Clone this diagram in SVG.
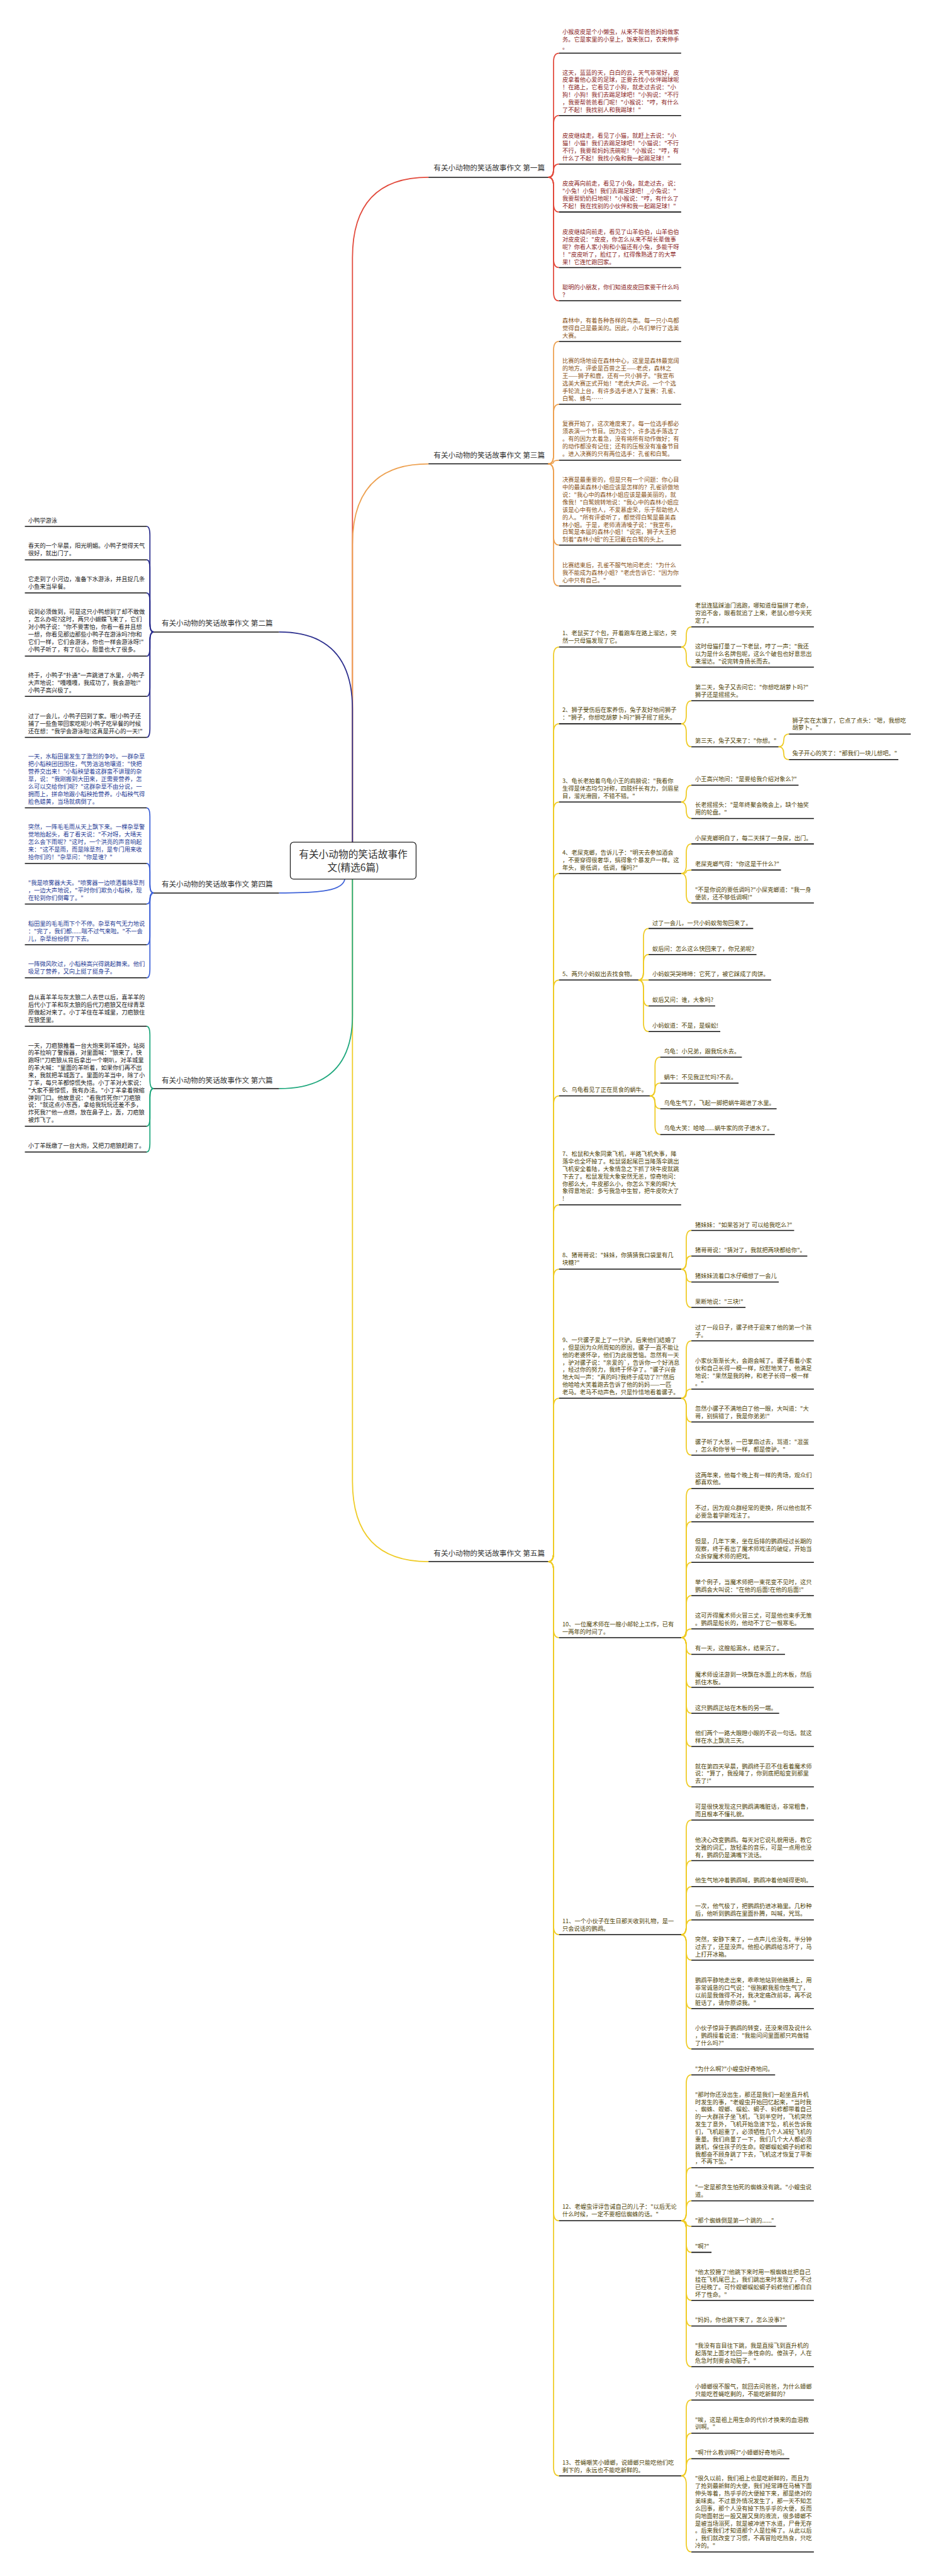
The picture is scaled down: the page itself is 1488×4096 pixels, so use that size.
<svg xmlns="http://www.w3.org/2000/svg" width="1488" height="4096" viewBox="0 0 1488 4096">
<style>
.t{font-family:"Noto Sans CJK SC","Noto Sans",sans-serif;font-size:16px}
.lb{font-family:"Noto Sans CJK SC","Noto Sans",sans-serif;font-size:20px;fill:#333}
.rt{font-family:"Noto Sans CJK SC","Noto Sans",sans-serif;font-size:27px;fill:#333}
.u{stroke:#111;stroke-width:2.6;fill:none}
.k{fill:none;stroke-width:3}
.r{stroke:#E2493B}.o{stroke:#EDA04F}.y{stroke:#EFCB24}.n{stroke:#2C2F8E}.b{stroke:#3E62D8}.g{stroke:#1EA77C}
.c1{fill:#8B1E1E}.c3{fill:#8A5418}.c5{fill:#4F4306}.c2{fill:#1a1a1a}.c4{fill:#1F3C96}.c6{fill:#1a1a1a}
</style>
<rect width="1488" height="4096" fill="#fff"/>
<g transform="scale(0.58125)">
<g id="connectors">
<path class="k r" d="M964 2304L964 705Q964 485 1172 485"/>
<path class="k o" d="M964 2304L964 1489Q964 1269 1172 1269"/>
<path class="k y" d="M964 2405L964 4052Q964 4272 1172 4272"/>
<path class="k n" d="M964 2304L964 1940Q964 1729 763 1729"/>
<path class="k b" d="M943 2405C938 2436 880 2443 763 2443"/>
<path class="k g" d="M964 2405L964 2778Q964 2978 763 2978"/>
<g class="k r">
<path d="M1499 485Q1514 485 1514 461L1514 169.5Q1514 145.5 1529 145.5"/>
<path d="M1499 485Q1514 485 1514 461L1514 340Q1514 316 1529 316"/>
<path d="M1499 485Q1514 485 1514 467Q1514 449 1529 449"/>
<path d="M1499 485Q1514 485 1514 509L1514 556Q1514 580 1529 580"/>
<path d="M1499 485Q1514 485 1514 509L1514 708Q1514 732 1529 732"/>
<path d="M1499 485Q1514 485 1514 509L1514 799Q1514 823 1529 823"/>
</g>
<g class="k o">
<path d="M1499 1269Q1514 1269 1514 1245L1514 958Q1514 934 1529 934"/>
<path d="M1499 1269Q1514 1269 1514 1245L1514 1130Q1514 1106 1529 1106"/>
<path d="M1499 1269Q1514 1269 1514 1264Q1514 1259 1529 1259"/>
<path d="M1499 1269Q1514 1269 1514 1293L1514 1467Q1514 1491 1529 1491"/>
<path d="M1499 1269Q1514 1269 1514 1293L1514 1579Q1514 1603 1529 1603"/>
</g>
<g class="k y">
<path d="M1499 4272Q1514 4272 1514 4248L1514 1794Q1514 1770 1529 1770"/>
<path d="M1499 4272Q1514 4272 1514 4248L1514 2004Q1514 1980 1529 1980"/>
<path d="M1499 4272Q1514 4272 1514 4248L1514 2218Q1514 2194 1529 2194"/>
<path d="M1499 4272Q1514 4272 1514 4248L1514 2413.5Q1514 2389.5 1529 2389.5"/>
<path d="M1499 4272Q1514 4272 1514 4248L1514 2705Q1514 2681 1529 2681"/>
<path d="M1499 4272Q1514 4272 1514 4248L1514 3022Q1514 2998 1529 2998"/>
<path d="M1499 4272Q1514 4272 1514 4248L1514 3320Q1514 3296 1529 3296"/>
<path d="M1499 4272Q1514 4272 1514 4248L1514 3496Q1514 3472 1529 3472"/>
<path d="M1499 4272Q1514 4272 1514 4248L1514 3849Q1514 3825 1529 3825"/>
<path d="M1499 4272Q1514 4272 1514 4296L1514 4456Q1514 4480 1529 4480"/>
<path d="M1499 4272Q1514 4272 1514 4296L1514 5268.6Q1514 5292.6 1529 5292.6"/>
<path d="M1499 4272Q1514 4272 1514 4296L1514 6051Q1514 6075 1529 6075"/>
<path d="M1499 4272Q1514 4272 1514 4296L1514 6749Q1514 6773 1529 6773"/>
<path d="M1863 1770Q1877 1770 1877 1746L1877 1739Q1877 1715 1891 1715"/>
<path d="M1863 1770Q1877 1770 1877 1794L1877 1801Q1877 1825 1891 1825"/>
<path d="M1863 1980Q1877 1980 1877 1956L1877 1941Q1877 1917 1891 1917"/>
<path d="M1863 1980Q1877 1980 1877 2004L1877 2019Q1877 2043 1891 2043"/>
<path d="M2129 2043Q2143.5 2043 2143.5 2025.5Q2143.5 2008 2158 2008"/>
<path d="M2129 2043Q2143.5 2043 2143.5 2060.5Q2143.5 2078 2158 2078"/>
<path d="M1863 2194Q1877 2194 1877 2171Q1877 2148 1891 2148"/>
<path d="M1863 2194Q1877 2194 1877 2216.5Q1877 2239 1891 2239"/>
<path d="M1863 2389.5Q1877 2389.5 1877 2365.5L1877 2332.6Q1877 2308.6 1891 2308.6"/>
<path d="M1863 2389.5Q1877 2389.5 1877 2384.75Q1877 2380 1891 2380"/>
<path d="M1863 2389.5Q1877 2389.5 1877 2413.5L1877 2446Q1877 2470 1891 2470"/>
<path d="M1746 2681Q1760 2681 1760 2657L1760 2564Q1760 2540 1774 2540"/>
<path d="M1746 2681Q1760 2681 1760 2657L1760 2635Q1760 2611 1774 2611"/>
<path d="M1746 2681L1774 2681"/>
<path d="M1746 2681Q1760 2681 1760 2705L1760 2728Q1760 2752 1774 2752"/>
<path d="M1746 2681Q1760 2681 1760 2705L1760 2798Q1760 2822 1774 2822"/>
<path d="M1777 2998Q1791.5 2998 1791.5 2974L1791.5 2916Q1791.5 2892 1806 2892"/>
<path d="M1777 2998Q1791.5 2998 1791.5 2980.5Q1791.5 2963 1806 2963"/>
<path d="M1777 2998Q1791.5 2998 1791.5 3015.5Q1791.5 3033 1806 3033"/>
<path d="M1777 2998Q1791.5 2998 1791.5 3022L1791.5 3079.5Q1791.5 3103.5 1806 3103.5"/>
<path d="M1863 3472Q1877 3472 1877 3448L1877 3390Q1877 3366 1891 3366"/>
<path d="M1863 3472Q1877 3472 1877 3454Q1877 3436 1891 3436"/>
<path d="M1863 3472Q1877 3472 1877 3489.5Q1877 3507 1891 3507"/>
<path d="M1863 3472Q1877 3472 1877 3496L1877 3552.5Q1877 3576.5 1891 3576.5"/>
<path d="M1863 3825Q1877 3825 1877 3801L1877 3692Q1877 3668 1891 3668"/>
<path d="M1863 3825Q1877 3825 1877 3812.5Q1877 3800 1891 3800"/>
<path d="M1863 3825Q1877 3825 1877 3849L1877 3866Q1877 3890 1891 3890"/>
<path d="M1863 3825Q1877 3825 1877 3849L1877 3956.6Q1877 3980.6 1891 3980.6"/>
<path d="M1863 4480Q1877 4480 1877 4456L1877 4096Q1877 4072 1891 4072"/>
<path d="M1863 4480Q1877 4480 1877 4456L1877 4187Q1877 4163 1891 4163"/>
<path d="M1863 4480Q1877 4480 1877 4456L1877 4298Q1877 4274 1891 4274"/>
<path d="M1863 4480Q1877 4480 1877 4456L1877 4389Q1877 4365 1891 4365"/>
<path d="M1863 4480Q1877 4480 1877 4468Q1877 4456 1891 4456"/>
<path d="M1863 4480Q1877 4480 1877 4502.75Q1877 4525.5 1891 4525.5"/>
<path d="M1863 4480Q1877 4480 1877 4504L1877 4592Q1877 4616 1891 4616"/>
<path d="M1863 4480Q1877 4480 1877 4504L1877 4663Q1877 4687 1891 4687"/>
<path d="M1863 4480Q1877 4480 1877 4504L1877 4753.5Q1877 4777.5 1891 4777.5"/>
<path d="M1863 4480Q1877 4480 1877 4504L1877 4864Q1877 4888 1891 4888"/>
<path d="M1863 5292.6Q1877 5292.6 1877 5268.6L1877 5003Q1877 4979 1891 4979"/>
<path d="M1863 5292.6Q1877 5292.6 1877 5268.6L1877 5114Q1877 5090 1891 5090"/>
<path d="M1863 5292.6Q1877 5292.6 1877 5268.6L1877 5185Q1877 5161 1891 5161"/>
<path d="M1863 5292.6Q1877 5292.6 1877 5272.3Q1877 5252 1891 5252"/>
<path d="M1863 5292.6Q1877 5292.6 1877 5316.6L1877 5338Q1877 5362 1891 5362"/>
<path d="M1863 5292.6Q1877 5292.6 1877 5316.6L1877 5470.7Q1877 5494.7 1891 5494.7"/>
<path d="M1863 5292.6Q1877 5292.6 1877 5316.6L1877 5581Q1877 5605 1891 5605"/>
<path d="M1863 6075Q1877 6075 1877 6051L1877 5700Q1877 5676 1891 5676"/>
<path d="M1863 6075Q1877 6075 1877 6051L1877 5954Q1877 5930 1891 5930"/>
<path d="M1863 6075Q1877 6075 1877 6051L1877 6044.6Q1877 6020.6 1891 6020.6"/>
<path d="M1863 6075Q1877 6075 1877 6082.75Q1877 6090.5 1891 6090.5"/>
<path d="M1863 6075Q1877 6075 1877 6099L1877 6137.5Q1877 6161.5 1891 6161.5"/>
<path d="M1863 6075Q1877 6075 1877 6099L1877 6269Q1877 6293 1891 6293"/>
<path d="M1863 6075Q1877 6075 1877 6099L1877 6339Q1877 6363 1891 6363"/>
<path d="M1863 6075Q1877 6075 1877 6099L1877 6450.5Q1877 6474.5 1891 6474.5"/>
<path d="M1863 6773Q1877 6773 1877 6749L1877 6589.5Q1877 6565.5 1891 6565.5"/>
<path d="M1863 6773Q1877 6773 1877 6749L1877 6680.5Q1877 6656.5 1891 6656.5"/>
<path d="M1863 6773Q1877 6773 1877 6749.5Q1877 6726 1891 6726"/>
<path d="M1863 6773Q1877 6773 1877 6797L1877 6957Q1877 6981 1891 6981"/>
</g>
<g class="k n">
<path d="M420 1729Q410 1729 410 1705L410 1464Q410 1440 401 1440"/>
<path d="M420 1729Q410 1729 410 1705L410 1555.6Q410 1531.6 401 1531.6"/>
<path d="M420 1729Q410 1729 410 1705L410 1646Q410 1622 401 1622"/>
<path d="M420 1729Q410 1729 410 1753L410 1771Q410 1795 401 1795"/>
<path d="M420 1729Q410 1729 410 1753L410 1881Q410 1905 401 1905"/>
<path d="M420 1729Q410 1729 410 1753L410 1993Q410 2017 401 2017"/>
</g>
<g class="k b">
<path d="M420 2443Q410 2443 410 2419L410 2234Q410 2210 401 2210"/>
<path d="M420 2443Q410 2443 410 2419L410 2386Q410 2362 401 2362"/>
<path d="M420 2443Q410 2443 410 2458Q410 2473 401 2473"/>
<path d="M420 2443Q410 2443 410 2467L410 2560.5Q410 2584.5 401 2584.5"/>
<path d="M420 2443Q410 2443 410 2467L410 2651Q410 2675 401 2675"/>
</g>
<g class="k g">
<path d="M420 2978Q410 2978 410 2954L410 2831.5Q410 2807.5 401 2807.5"/>
<path d="M420 2978Q410 2978 410 3002L410 3057Q410 3081 401 3081"/>
<path d="M420 2978Q410 2978 410 3002L410 3127.5Q410 3151.5 401 3151.5"/>
</g>
</g>

<g id="root">
<rect x="794" y="2304" width="344" height="101" rx="9" fill="#fff" stroke="#222" stroke-width="2.2"/>
<text class="rt" x="966" y="2347" text-anchor="middle">有关小动物的笑话故事作</text>
<text class="rt" x="966" y="2382.5" text-anchor="middle">文(精选6篇)</text>
</g>

<g id="b1"><text class="lb" x="1490" y="467" text-anchor="end">有关小动物的笑话故事作文 第一篇</text><line class="u" x1="1172" y1="485" x2="1499" y2="485"/></g>
<g id="b3"><text class="lb" x="1490" y="1253" text-anchor="end">有关小动物的笑话故事作文 第三篇</text><line class="u" x1="1172" y1="1269" x2="1499" y2="1269"/></g>
<g id="b5"><text class="lb" x="1490" y="4256" text-anchor="end">有关小动物的笑话故事作文 第五篇</text><line class="u" x1="1172" y1="4272" x2="1499" y2="4272"/></g>
<g id="b2"><text class="lb" x="442" y="1712">有关小动物的笑话故事作文 第二篇</text><line class="u" x1="420" y1="1729" x2="763" y2="1729"/></g>
<g id="b4"><text class="lb" x="442" y="2426">有关小动物的笑话故事作文 第四篇</text><line class="u" x1="420" y1="2443" x2="763" y2="2443"/></g>
<g id="b6"><text class="lb" x="442" y="2963">有关小动物的笑话故事作文 第六篇</text><line class="u" x1="420" y1="2978" x2="763" y2="2978"/></g>

<!-- 第一篇 -->
<g id="a1"><text class="t c1" x="1538" y="92.6">小猴皮皮是个小懒虫，从来不帮爸爸妈妈做家<tspan x="1538" dy="20.5">务。它是家里的小皇上，饭来张口，衣来伸手</tspan><tspan x="1538" dy="20.5">。</tspan></text><line class="u" x1="1529" y1="145.5" x2="1863" y2="145.5"/></g>
<g id="a2"><text class="t c1" x="1538" y="204">这天，蓝蓝的天，白白的云，天气非常好，皮<tspan x="1538" dy="20.5">皮拿着他心爱的足球，正要去找小伙伴踢球呢</tspan><tspan x="1538" dy="20.5">！在路上，它看见了小狗，就走过去说："小</tspan><tspan x="1538" dy="20.5">狗！小狗！我们去踢足球吧！"小狗说："不行</tspan><tspan x="1538" dy="20.5">，我要帮爸爸看门呢！"小猴说："哼，有什么</tspan><tspan x="1538" dy="20.5">了不起！我找别人和我踢球！"</tspan></text><line class="u" x1="1529" y1="316" x2="1863" y2="316"/></g>
<g id="a3"><text class="t c1" x="1538" y="377">皮皮继续走，看见了小猫，就赶上去说："小<tspan x="1538" dy="20.5">猫！小猫！我们去踢足球吧！"小猫说："不行</tspan><tspan x="1538" dy="20.5">不行，我要帮妈妈洗碗呢！"小猴说："哼，有</tspan><tspan x="1538" dy="20.5">什么了不起！我找小兔和我一起踢足球！"</tspan></text><line class="u" x1="1529" y1="449" x2="1863" y2="449"/></g>
<g id="a4"><text class="t c1" x="1538" y="508">皮皮再向前走，看见了小兔，就走过去，说：<tspan x="1538" dy="20.5">"小兔！小兔！我们去踢足球吧！_小兔说："</tspan><tspan x="1538" dy="20.5">我要帮奶奶扫地呢！"小猴说："哼，有什么了</tspan><tspan x="1538" dy="20.5">不起！我在找别的小伙伴和我一起踢足球！"</tspan></text><line class="u" x1="1529" y1="580" x2="1863" y2="580"/></g>
<g id="a5"><text class="t c1" x="1538" y="640">皮皮继续向前走，看见了山羊伯伯，山羊伯伯<tspan x="1538" dy="20.5">对皮皮说："皮皮，你怎么从来不帮长辈做事</tspan><tspan x="1538" dy="20.5">呢？你看人家小狗和小猫还有小兔，多能干呀</tspan><tspan x="1538" dy="20.5">！"皮皮听了，脸红了，红得像熟透了的大苹</tspan><tspan x="1538" dy="20.5">果！它连忙跑回家。</tspan></text><line class="u" x1="1529" y1="732" x2="1863" y2="732"/></g>
<g id="a6"><text class="t c1" x="1538" y="792">聪明的小朋友，你们知道皮皮回家要干什么吗<tspan x="1538" dy="20.5">？</tspan></text><line class="u" x1="1529" y1="823" x2="1863" y2="823"/></g>

<!-- 第三篇 -->
<g id="c1"><text class="t c3" x="1538" y="883">森林中，有着各种各样的鸟类。每一只小鸟都<tspan x="1538" dy="20.5">觉得自己是最美的。因此，小鸟们举行了选美</tspan><tspan x="1538" dy="20.5">大赛。</tspan></text><line class="u" x1="1529" y1="934" x2="1863" y2="934"/></g>
<g id="c2"><text class="t c3" x="1538" y="993">比赛的场地设在森林中心，这里是森林最宽阔<tspan x="1538" dy="20.5">的地方。评委是百兽之王——老虎，森林之</tspan><tspan x="1538" dy="20.5">王——狮子和鹿，还有一只小狮子。"我宣布</tspan><tspan x="1538" dy="20.5">选美大赛正式开始！"老虎大声说。一个个选</tspan><tspan x="1538" dy="20.5">手轮流上台，有许多选手进入了复赛：孔雀、</tspan><tspan x="1538" dy="20.5">白鹭、蜂鸟……</tspan></text><line class="u" x1="1529" y1="1106" x2="1863" y2="1106"/></g>
<g id="c3"><text class="t c3" x="1538" y="1165.5">复赛开始了，这次难度来了。每一位选手都必<tspan x="1538" dy="20.5">须表演一个节目。因为这个，许多选手落选了</tspan><tspan x="1538" dy="20.5">。有的因为太着急，没有将所有动作做好；有</tspan><tspan x="1538" dy="20.5">的动作都没有记住；还有的压根没有准备节目</tspan><tspan x="1538" dy="20.5">。进入决赛的只有两位选手：孔雀和白鹭。</tspan></text><line class="u" x1="1529" y1="1259" x2="1863" y2="1259"/></g>
<g id="c4"><text class="t c3" x="1538" y="1318">决赛是最重要的，但是只有一个问题：你心目<tspan x="1538" dy="20.5">中的最美森林小姐应该是怎样的？孔雀骄傲地</tspan><tspan x="1538" dy="20.5">说："我心中的森林小姐应该是最美丽的，就</tspan><tspan x="1538" dy="20.5">像我！"白鹭婉转地说："我心中的森林小姐应</tspan><tspan x="1538" dy="20.5">该是心中有他人，不爱慕虚荣，乐于帮助他人</tspan><tspan x="1538" dy="20.5">的人。"所有评委听了，都觉得白鹭是最美森</tspan><tspan x="1538" dy="20.5">林小姐。于是，老师清清嗓子说："我宣布，</tspan><tspan x="1538" dy="20.5">白鹭是本届的森林小姐！"说完，狮子大王把</tspan><tspan x="1538" dy="20.5">刻着"森林小姐"的王冠戴在白鹭的头上。</tspan></text><line class="u" x1="1529" y1="1491" x2="1863" y2="1491"/></g>
<g id="c5"><text class="t c3" x="1538" y="1552">比赛结束后，孔雀不服气地问老虎："为什么<tspan x="1538" dy="20.5">我不能成为森林小姐？"老虎告诉它："因为你</tspan><tspan x="1538" dy="20.5">心中只有自己。"</tspan></text><line class="u" x1="1529" y1="1603" x2="1863" y2="1603"/></g>

<!-- 第五篇 items -->
<g id="e1"><text class="t c5" x="1538" y="1738">1、老鼠买了个包，开着跑车在路上溜达，突<tspan x="1538" dy="20.5">然一只母猫发现了它。</tspan></text><line class="u" x1="1529" y1="1770" x2="1863" y2="1770"/></g>
<g id="e1a"><text class="t c5" x="1901" y="1662">老鼠连猛踩油门逃跑，哪知道母猫拼了老命，<tspan x="1901" dy="20.5">穷追不舍，眼看就追了上来，老鼠心想今天死</tspan><tspan x="1901" dy="20.5">定了。</tspan></text><line class="u" x1="1891" y1="1715" x2="2226" y2="1715"/></g>
<g id="e1b"><text class="t c5" x="1901" y="1774">这时母猫打量了一下老鼠，哼了一声："我还<tspan x="1901" dy="20.5">以为是什么名牌包呢，这么个破包也好意思出</tspan><tspan x="1901" dy="20.5">来溜达。"说完转身扬长而去。</tspan></text><line class="u" x1="1891" y1="1825" x2="2226" y2="1825"/></g>

<g id="e2"><text class="t c5" x="1538" y="1948">2、狮子受伤后在家养伤，兔子友好地问狮子<tspan x="1538" dy="20.5">："狮子，你想吃胡萝卜吗?"狮子摇了摇头。</tspan></text><line class="u" x1="1529" y1="1980" x2="1863" y2="1980"/></g>
<g id="e2a"><text class="t c5" x="1901" y="1885">第二天，兔子又去问它："你想吃胡萝卜吗?"<tspan x="1901" dy="20.5">狮子还是摇摇头。</tspan></text><line class="u" x1="1891" y1="1917" x2="2226" y2="1917"/></g>
<g id="e2b"><text class="t c5" x="1901" y="2032">第三天，兔子又来了："你想。"</text><line class="u" x1="1891" y1="2043" x2="2129" y2="2043"/></g>
<g id="e2b1"><text class="t c5" x="2167" y="1976">狮子实在太饿了，它点了点头："嗯，我想吃<tspan x="2167" dy="20.5">胡萝卜。"</tspan></text><line class="u" x1="2158" y1="2008" x2="2491" y2="2008"/></g>
<g id="e2b2"><text class="t c5" x="2167" y="2067">兔子开心的笑了："那我们一块儿想吧。"</text><line class="u" x1="2158" y1="2078" x2="2457" y2="2078"/></g>

<g id="e3"><text class="t c5" x="1538" y="2142">3、龟长老拍着乌龟小王的肩膀说："我看你<tspan x="1538" dy="20.5">生得是体态均匀对称，四肢纤长有力，剑眉星</tspan><tspan x="1538" dy="20.5">目，溜光滑圆，不错不错。"</tspan></text><line class="u" x1="1529" y1="2194" x2="1863" y2="2194"/></g>
<g id="e3a"><text class="t c5" x="1901" y="2137">小王高兴地问："是要给我介绍对象么?"</text><line class="u" x1="1891" y1="2148" x2="2184" y2="2148"/></g>
<g id="e3b"><text class="t c5" x="1901" y="2208">长老摇摇头："是年终聚会晚会上，缺个抽奖<tspan x="1901" dy="20.5">用的轮盘。"</tspan></text><line class="u" x1="1891" y1="2239" x2="2226" y2="2239"/></g>

<g id="e4"><text class="t c5" x="1538" y="2338">4、老屎克螂，告诉儿子："明天去参加酒会<tspan x="1538" dy="20.5">，不要穿得很奢华，搞得象个暴发户一样。这</tspan><tspan x="1538" dy="20.5">年头，要低调，低调，懂吗?"</tspan></text><line class="u" x1="1529" y1="2389.5" x2="1863" y2="2389.5"/></g>
<g id="e4a"><text class="t c5" x="1901" y="2298">小屎克螂明白了，每二天抹了一身屎，出门。</text><line class="u" x1="1891" y1="2308.6" x2="2226" y2="2308.6"/></g>
<g id="e4b"><text class="t c5" x="1901" y="2368.5">老屎克螂气得："你这是干什么?"</text><line class="u" x1="1891" y1="2380" x2="2136" y2="2380"/></g>
<g id="e4c"><text class="t c5" x="1901" y="2439">"不是你说的要低调吗?"小屎克螂道："我一身<tspan x="1901" dy="20.5">便装，还不够低调啊!"</tspan></text><line class="u" x1="1891" y1="2470" x2="2226" y2="2470"/></g>

<g id="e5"><text class="t c5" x="1538" y="2670">5、两只小蚂蚁出去找食物。</text><line class="u" x1="1529" y1="2681" x2="1746" y2="2681"/></g>
<g id="e5a"><text class="t c5" x="1784" y="2530">过了一会儿，一只小蚂蚁匆匆回来了。</text><line class="u" x1="1774" y1="2540" x2="2060" y2="2540"/></g>
<g id="e5b"><text class="t c5" x="1784" y="2601">蚁后问：怎么这么快回来了，你兄弟呢?</text><line class="u" x1="1774" y1="2611" x2="2069" y2="2611"/></g>
<g id="e5c"><text class="t c5" x="1784" y="2670">小蚂蚁哭哭啼啼：它死了，被它踩成了肉饼。</text><line class="u" x1="1774" y1="2681" x2="2109" y2="2681"/></g>
<g id="e5d"><text class="t c5" x="1784" y="2740">蚁后又问：谁，大象吗?</text><line class="u" x1="1774" y1="2752" x2="1956" y2="2752"/></g>
<g id="e5e"><text class="t c5" x="1784" y="2811">小蚂蚁道：不是，是蜈蚣!</text><line class="u" x1="1774" y1="2822" x2="1970" y2="2822"/></g>

<g id="e6"><text class="t c5" x="1538" y="2987">6、乌龟看见了正在觅食的蜗牛。</text><line class="u" x1="1529" y1="2998" x2="1777" y2="2998"/></g>
<g id="e6a"><text class="t c5" x="1816" y="2882">乌龟：小兄弟，跟我玩水去。</text><line class="u" x1="1806" y1="2892" x2="2029" y2="2892"/></g>
<g id="e6b"><text class="t c5" x="1816" y="2952">蜗牛：不见我正忙吗?不去。</text><line class="u" x1="1806" y1="2963" x2="2020" y2="2963"/></g>
<g id="e6c"><text class="t c5" x="1816" y="3022">乌龟生气了，飞起一脚把蜗牛踢进了水里。</text><line class="u" x1="1806" y1="3033" x2="2124" y2="3033"/></g>
<g id="e6d"><text class="t c5" x="1816" y="3092">乌龟大笑：哈哈......蜗牛家的房子进水了。</text><line class="u" x1="1806" y1="3103.5" x2="2119" y2="3103.5"/></g>

<g id="e7"><text class="t c5" x="1538" y="3162">7、松鼠和大象同乘飞机，半路飞机失事，降<tspan x="1538" dy="20.5">落伞也全坏掉了。松鼠竖起尾巴当降落伞跳出</tspan><tspan x="1538" dy="20.5">飞机安全着陆，大象情急之下抓了块牛皮就跳</tspan><tspan x="1538" dy="20.5">下去了。松鼠发现大象安然无恙，惊奇地问：</tspan><tspan x="1538" dy="20.5">你那么大，牛皮那么小，你怎么下来的啊?大</tspan><tspan x="1538" dy="20.5">象得意地说：多亏我急中生智，把牛皮吹大了</tspan><tspan x="1538" dy="20.5">!</tspan></text><line class="u" x1="1529" y1="3296" x2="1863" y2="3296"/></g>

<g id="e8"><text class="t c5" x="1538" y="3440">8、猪哥哥说："妹妹，你猜猜我口袋里有几<tspan x="1538" dy="20.5">块糖?"</tspan></text><line class="u" x1="1529" y1="3472" x2="1863" y2="3472"/></g>
<g id="e8a"><text class="t c5" x="1901" y="3356">猪妹妹："如果答对了 可以给我吃么?"</text><line class="u" x1="1891" y1="3366" x2="2172" y2="3366"/></g>
<g id="e8b"><text class="t c5" x="1901" y="3426">猪哥哥说："猜对了，我就把两块都给你"。</text><line class="u" x1="1891" y1="3436" x2="2208" y2="3436"/></g>
<g id="e8c"><text class="t c5" x="1901" y="3496">猪妹妹流着口水仔细想了一会儿</text><line class="u" x1="1891" y1="3507" x2="2130" y2="3507"/></g>
<g id="e8d"><text class="t c5" x="1901" y="3566">果断地说："三块!"</text><line class="u" x1="1891" y1="3576.5" x2="2039" y2="3576.5"/></g>

<g id="e9"><text class="t c5" x="1538" y="3671">9、一只骡子爱上了一只驴。后来他们结婚了<tspan x="1538" dy="20.5">，但是因为众所周知的原因，骡子一直不能让</tspan><tspan x="1538" dy="20.5">他的老婆怀孕，他们为此很苦恼。忽然有一天</tspan><tspan x="1538" dy="20.5">，驴对骡子说："亲爱的`，告诉你一个好消息</tspan><tspan x="1538" dy="20.5">，经过你的努力，我终于怀孕了。"骡子兴奋</tspan><tspan x="1538" dy="20.5">地大叫一声："真的吗?我终于成功了?!"然后</tspan><tspan x="1538" dy="20.5">他哈哈大笑着跑去告诉了他的妈妈——一匹</tspan><tspan x="1538" dy="20.5">老马。老马不动声色，只是怜惜地看着骡子。</tspan></text><line class="u" x1="1529" y1="3825" x2="1863" y2="3825"/></g>
<g id="e9a"><text class="t c5" x="1901" y="3637">过了一段日子，骡子终于迎来了他的第一个孩<tspan x="1901" dy="20.5">子。</tspan></text><line class="u" x1="1891" y1="3668" x2="2226" y2="3668"/></g>
<g id="e9b"><text class="t c5" x="1901" y="3728">小家伙渐渐长大，会跑会喊了。骡子看着小家<tspan x="1901" dy="20.5">伙和自己长得一模一样，欣慰地笑了，他满足</tspan><tspan x="1901" dy="20.5">地说："果然是我的种，和老子长得一模一样</tspan><tspan x="1901" dy="20.5">。"</tspan></text><line class="u" x1="1891" y1="3800" x2="2226" y2="3800"/></g>
<g id="e9c"><text class="t c5" x="1901" y="3859">忽然小骡子不满地白了他一眼，大叫道："大<tspan x="1901" dy="20.5">哥，别搞错了，我是你弟弟!"</tspan></text><line class="u" x1="1891" y1="3890" x2="2226" y2="3890"/></g>
<g id="e9d"><text class="t c5" x="1901" y="3950">骡子听了大怒，一巴掌扇过去，骂道："混蛋<tspan x="1901" dy="20.5">，怎么和你爷爷一样，都是傻驴。"</tspan></text><line class="u" x1="1891" y1="3980.6" x2="2226" y2="3980.6"/></g>

<g id="e10"><text class="t c5" x="1538" y="4449">10、一位魔术师在一艘小邮轮上工作，已有<tspan x="1538" dy="20.5">一两年的时间了。</tspan></text><line class="u" x1="1529" y1="4480" x2="1863" y2="4480"/></g>
<g id="e10a"><text class="t c5" x="1901" y="4040.5">这两年来，他每个晚上有一样的秀场，观众们<tspan x="1901" dy="20.5">都喜欢他。</tspan></text><line class="u" x1="1891" y1="4072" x2="2226" y2="4072"/></g>
<g id="e10b"><text class="t c5" x="1901" y="4131">不过，因为观众群经常的更换，所以他也就不<tspan x="1901" dy="20.5">必要急着学新戏法了。</tspan></text><line class="u" x1="1891" y1="4163" x2="2226" y2="4163"/></g>
<g id="e10c"><text class="t c5" x="1901" y="4222.5">但是，几年下来，坐在后排的鹦鹉经过长期的<tspan x="1901" dy="20.5">观察，终于看出了魔术师戏法的破绽，开始当</tspan><tspan x="1901" dy="20.5">众拆穿魔术师的把戏。</tspan></text><line class="u" x1="1891" y1="4274" x2="2226" y2="4274"/></g>
<g id="e10d"><text class="t c5" x="1901" y="4334">举个例子，当魔术师把一束花变不见时，这只<tspan x="1901" dy="20.5">鹦鹉会大叫说："在他的后面!在他的后面!"</tspan></text><line class="u" x1="1891" y1="4365" x2="2226" y2="4365"/></g>
<g id="e10e"><text class="t c5" x="1901" y="4424.5">这可弄得魔术师火冒三丈，可是他也束手无策<tspan x="1901" dy="20.5">。鹦鹉是船长的，他动不了它一根寒毛。</tspan></text><line class="u" x1="1891" y1="4456" x2="2226" y2="4456"/></g>
<g id="e10f"><text class="t c5" x="1901" y="4514">有一天，这艘船漏水，结果沉了。</text><line class="u" x1="1891" y1="4525.5" x2="2147" y2="4525.5"/></g>
<g id="e10g"><text class="t c5" x="1901" y="4586">魔术师设法游到一块飘在水面上的木板，然后<tspan x="1901" dy="20.5">抓住木板。</tspan></text><line class="u" x1="1891" y1="4616" x2="2226" y2="4616"/></g>
<g id="e10h"><text class="t c5" x="1901" y="4677">这只鹦鹉正站在木板的另一端。</text><line class="u" x1="1891" y1="4687" x2="2131" y2="4687"/></g>
<g id="e10i"><text class="t c5" x="1901" y="4747">他们两个一路大眼瞪小眼的不说一句话。就这<tspan x="1901" dy="20.5">样在水上飘流三天。</tspan></text><line class="u" x1="1891" y1="4777.5" x2="2226" y2="4777.5"/></g>
<g id="e10j"><text class="t c5" x="1901" y="4837">就在第四天早晨，鹦鹉终于忍不住看着魔术师<tspan x="1901" dy="20.5">说："算了，我投降了，你到底把船变到那里</tspan><tspan x="1901" dy="20.5">去了!"</tspan></text><line class="u" x1="1891" y1="4888" x2="2226" y2="4888"/></g>

<g id="e11"><text class="t c5" x="1538" y="5261">11、一个小伙子在生日那天收到礼物，是一<tspan x="1538" dy="20.5">只会说话的鹦鹉。</tspan></text><line class="u" x1="1529" y1="5292.6" x2="1863" y2="5292.6"/></g>
<g id="e11a"><text class="t c5" x="1901" y="4948">可是很快发现这只鹦鹉满嘴脏话，非常粗鲁，<tspan x="1901" dy="20.5">而且根本不懂礼貌。</tspan></text><line class="u" x1="1891" y1="4979" x2="2226" y2="4979"/></g>
<g id="e11b"><text class="t c5" x="1901" y="5039">他决心改变鹦鹉。每天对它说礼貌用语，教它<tspan x="1901" dy="20.5">文雅的词汇，放轻柔的音乐，可是一点用也没</tspan><tspan x="1901" dy="20.5">有，鹦鹉仍是满嘴下流话。</tspan></text><line class="u" x1="1891" y1="5090" x2="2226" y2="5090"/></g>
<g id="e11c"><text class="t c5" x="1901" y="5150">他生气地冲着鹦鹉喊，鹦鹉冲着他喊得更响。</text><line class="u" x1="1891" y1="5161" x2="2226" y2="5161"/></g>
<g id="e11d"><text class="t c5" x="1901" y="5220.5">一次，他气极了，把鹦鹉扔进冰箱里。几秒种<tspan x="1901" dy="20.5">后，他听到鹦鹉在里面扑腾，叫喊，咒骂。</tspan></text><line class="u" x1="1891" y1="5252" x2="2226" y2="5252"/></g>
<g id="e11e"><text class="t c5" x="1901" y="5311">突然，安静下来了，一点声儿也没有。半分钟<tspan x="1901" dy="20.5">过去了，还是没声。他担心鹦鹉给冻坏了，马</tspan><tspan x="1901" dy="20.5">上打开冰箱。</tspan></text><line class="u" x1="1891" y1="5362" x2="2226" y2="5362"/></g>
<g id="e11f"><text class="t c5" x="1901" y="5422.7">鹦鹉平静地走出来，乖乖地站到他胳膊上，用<tspan x="1901" dy="20.5">非常诚恳的口气说："很抱歉我惹你生气了，</tspan><tspan x="1901" dy="20.5">以前是我做得不对，我决定痛改前非，再不说</tspan><tspan x="1901" dy="20.5">脏话了，请你原谅我。"</tspan></text><line class="u" x1="1891" y1="5494.7" x2="2226" y2="5494.7"/></g>
<g id="e11g"><text class="t c5" x="1901" y="5554">小伙子惊异于鹦鹉的转变，还没来得及说什么<tspan x="1901" dy="20.5">，鹦鹉接着说道："我能问问里面那只鸡做错</tspan><tspan x="1901" dy="20.5">了什么吗?"</tspan></text><line class="u" x1="1891" y1="5605" x2="2226" y2="5605"/></g>

<g id="e12"><text class="t c5" x="1538" y="6043">12、老蝗虫谆谆告诫自己的儿子："以后无论<tspan x="1538" dy="20.5">什么时候，一定不要相信蜘蛛的话。"</tspan></text><line class="u" x1="1529" y1="6075" x2="1863" y2="6075"/></g>
<g id="e12a"><text class="t c5" x="1901" y="5665.5">"为什么啊?"小蝗虫好奇地问。</text><line class="u" x1="1891" y1="5676" x2="2120" y2="5676"/></g>
<g id="e12b"><text class="t c5" x="1901" y="5735.5">"那时你还没出生，那还是我们一起坐直升机<tspan x="1901" dy="20.4">时发生的事，"老蝗虫开始回忆起来，"当时我</tspan><tspan x="1901" dy="20.4">、蜘蛛、螳螂、蜈蚣、蝎子、蚂蚱都带着自己</tspan><tspan x="1901" dy="20.4">的一大群孩子坐飞机，飞到半空时，飞机突然</tspan><tspan x="1901" dy="20.4">发生了意外，飞机开始急速下坠，机长告诉我</tspan><tspan x="1901" dy="20.4">们，飞机超重了，必须牺牲几个人减轻飞机的</tspan><tspan x="1901" dy="20.4">重量。我们商量了一下，我们几个大人都必须</tspan><tspan x="1901" dy="20.4">跳机，保住孩子的生命。螳螂蜈蚣蝎子蚂蚱和</tspan><tspan x="1901" dy="20.4">我都奋不顾身跳了下去，飞机这才恢复了平衡</tspan><tspan x="1901" dy="20.4">，不再下坠。"</tspan></text><line class="u" x1="1891" y1="5930" x2="2226" y2="5930"/></g>
<g id="e12c"><text class="t c5" x="1901" y="5989">"一定是那贪生怕死的蜘蛛没有跳。"小蝗虫说<tspan x="1901" dy="20.5">道。</tspan></text><line class="u" x1="1891" y1="6020.6" x2="2226" y2="6020.6"/></g>
<g id="e12d"><text class="t c5" x="1901" y="6079.7">"那个蜘蛛倒是第一个跳的......"</text><line class="u" x1="1891" y1="6090.5" x2="2122" y2="6090.5"/></g>
<g id="e12e"><text class="t c5" x="1901" y="6151">"啊?"</text><line class="u" x1="1891" y1="6161.5" x2="1946" y2="6161.5"/></g>
<g id="e12f"><text class="t c5" x="1901" y="6221">"他太狡猾了!他跳下来时用一根蜘蛛丝把自己<tspan x="1901" dy="20.4">挂在飞机尾巴上，我们跳出来时发现了，不过</tspan><tspan x="1901" dy="20.4">已经晚了。可怜螳螂蜈蚣蝎子蚂蚱他们都白白</tspan><tspan x="1901" dy="20.4">坏了性命。"</tspan></text><line class="u" x1="1891" y1="6293" x2="2226" y2="6293"/></g>
<g id="e12g"><text class="t c5" x="1901" y="6352">"妈妈，你也跳下来了，怎么没事?"</text><line class="u" x1="1891" y1="6363" x2="2152" y2="6363"/></g>
<g id="e12h"><text class="t c5" x="1901" y="6423">"我没有盲目往下跳，我是直接飞到直升机的<tspan x="1901" dy="20.5">起落架上面才捡回一条性命的。傻孩子，人在</tspan><tspan x="1901" dy="20.5">危急时刻要会动脑子。"</tspan></text><line class="u" x1="1891" y1="6474.5" x2="2226" y2="6474.5"/></g>

<g id="e13"><text class="t c5" x="1538" y="6742">13、苍蝇嘲笑小蟑螂，说蟑螂只能吃他们吃<tspan x="1538" dy="20.5">剩下的，永远也不能吃新鲜的。</tspan></text><line class="u" x1="1529" y1="6773" x2="1863" y2="6773"/></g>
<g id="e13a"><text class="t c5" x="1901" y="6534">小蟑螂很不服气，就回去问爸爸，为什么蟑螂<tspan x="1901" dy="20.5">只能吃苍蝇吃剩的，不能吃新鲜的?</tspan></text><line class="u" x1="1891" y1="6565.5" x2="2226" y2="6565.5"/></g>
<g id="e13b"><text class="t c5" x="1901" y="6624.6">"唉，这是祖上用生命的代价才换来的血泪教<tspan x="1901" dy="20.5">训啊。"</tspan></text><line class="u" x1="1891" y1="6656.5" x2="2226" y2="6656.5"/></g>
<g id="e13c"><text class="t c5" x="1901" y="6715.5">"啊?什么教训啊?"小蟑螂好奇地问。</text><line class="u" x1="1891" y1="6726" x2="2159" y2="6726"/></g>
<g id="e13d"><text class="t c5" x="1901" y="6786">"很久以前，我们祖上也是吃新鲜的，而且为<tspan x="1901" dy="20.4">了抢到最新鲜的大便，我们经常蹲在马桶下面</tspan><tspan x="1901" dy="20.4">伸头等着，热乎乎的大便掉下来，那是绝对的</tspan><tspan x="1901" dy="20.4">美味奥。不过意外情况发生了，那一天不知怎</tspan><tspan x="1901" dy="20.4">么回事，那个人没有掉下热乎乎的大便，反而</tspan><tspan x="1901" dy="20.4">向地面射出一股又腥又臭的液流，很多蟑螂不</tspan><tspan x="1901" dy="20.4">是被当场溺死，就是被冲进下水道，尸骨无存</tspan><tspan x="1901" dy="20.4">。后来我们才知道那个人是拉稀了。从此以后</tspan><tspan x="1901" dy="20.4">，我们就改变了习惯，不再冒险吃热食，只吃</tspan><tspan x="1901" dy="20.4">冷的。"</tspan></text><line class="u" x1="1891" y1="6981" x2="2226" y2="6981"/></g>

<!-- 第二篇 -->
<g id="d0"><text class="t c2" x="77" y="1429">小鸭学游泳</text><line class="u" x1="68" y1="1440" x2="401" y2="1440"/></g>
<g id="d1"><text class="t c2" x="77" y="1499">春天的一个早晨，阳光明媚。小鸭子觉得天气<tspan x="77" dy="20.5">很好，就出门了。</tspan></text><line class="u" x1="68" y1="1531.6" x2="401" y2="1531.6"/></g>
<g id="d2"><text class="t c2" x="77" y="1590">它走到了小河边，准备下水游泳，并且捉几条<tspan x="77" dy="20.5">小鱼来当早餐。</tspan></text><line class="u" x1="68" y1="1622" x2="401" y2="1622"/></g>
<g id="d3"><text class="t c2" x="77" y="1679.6">说到必须做到，可是这只小鸭想到了却不敢做<tspan x="77" dy="20.5">，怎么办呢?这时，两只小蝴蝶飞来了，它们</tspan><tspan x="77" dy="20.5">对小鸭子说："你不要害怕，你看一看并且想</tspan><tspan x="77" dy="20.5">一想，你看见那边那些小鸭子在游泳吗?你和</tspan><tspan x="77" dy="20.5">它们一样，它们会游泳，你也一样会游泳呀!"</tspan><tspan x="77" dy="20.5">小鸭子听了，有了信心，胆量也大了很多。</tspan></text><line class="u" x1="68" y1="1795" x2="401" y2="1795"/></g>
<g id="d4"><text class="t c2" x="77" y="1853">终于，小鸭子"扑通"一声跳进了水里，小鸭子<tspan x="77" dy="20.5">大声地说："嘎嘎嘎，我成功了，我会游啦!"</tspan><tspan x="77" dy="20.5">小鸭子高兴极了。</tspan></text><line class="u" x1="68" y1="1905" x2="401" y2="1905"/></g>
<g id="d5"><text class="t c2" x="77" y="1965">过了一会儿，小鸭子回到了家。哦!小鸭子还<tspan x="77" dy="20.5">捕了一些鱼带回家吃呢!小鸭子吃早餐的时候</tspan><tspan x="77" dy="20.5">还在想："我学会游泳啦!这真是开心的一天!"</tspan></text><line class="u" x1="68" y1="2017" x2="401" y2="2017"/></g>

<!-- 第四篇 -->
<g id="f1"><text class="t c4" x="77" y="2075.6">一天，水稻田里发生了激烈的争吵。一群杂草<tspan x="77" dy="20.4">把小稻秧团团围住，气势汹汹地嚷道："快把</tspan><tspan x="77" dy="20.4">营养交出来！"小稻秧望着这群蛮不讲理的杂</tspan><tspan x="77" dy="20.4">草，说："我刚搬到大田来，正需要营养，怎</tspan><tspan x="77" dy="20.4">么可以交给你们呢？"这群杂草不由分说，一</tspan><tspan x="77" dy="20.4">拥而上，拼命地跟小稻秧抢营养。小稻秧气得</tspan><tspan x="77" dy="20.4">脸色蜡黄，当场就病倒了。</tspan></text><line class="u" x1="68" y1="2210" x2="401" y2="2210"/></g>
<g id="f2"><text class="t c4" x="77" y="2268">突然，一阵毛毛雨从天上飘下来。一棵杂草警<tspan x="77" dy="20.5">觉地抬起头，看了看天说："不对呀，大晴天</tspan><tspan x="77" dy="20.5">怎么会下雨呢？"这时，一个洪亮的声音响起</tspan><tspan x="77" dy="20.5">来："这不是雨，而是除草剂，是专门用来收</tspan><tspan x="77" dy="20.5">拾你们的！"杂草问："你是谁？"</tspan></text><line class="u" x1="68" y1="2362" x2="401" y2="2362"/></g>
<g id="f3"><text class="t c4" x="77" y="2421">"我是喷雾器大夫。"喷雾器一边喷洒着除草剂<tspan x="77" dy="20.5">，一边大声地说，"平时你们欺负小稻秧，现</tspan><tspan x="77" dy="20.5">在轮到你们倒霉了。"</tspan></text><line class="u" x1="68" y1="2473" x2="401" y2="2473"/></g>
<g id="f4"><text class="t c4" x="77" y="2532">稻田里的毛毛雨下个不停。杂草有气无力地说<tspan x="77" dy="20.5">："完了，我们都......喘不过气来啦。"不一会</tspan><tspan x="77" dy="20.5">儿，杂草纷纷倒了下去。</tspan></text><line class="u" x1="68" y1="2584.5" x2="401" y2="2584.5"/></g>
<g id="f5"><text class="t c4" x="77" y="2643">一阵微风吹过，小稻秧高兴得跳起舞来。他们<tspan x="77" dy="20.5">吸足了营养，又向上挺了挺身子。</tspan></text><line class="u" x1="68" y1="2675" x2="401" y2="2675"/></g>

<!-- 第六篇 -->
<g id="h1"><text class="t c6" x="77" y="2734">自从喜羊羊与灰太狼二人去世以后，喜羊羊的<tspan x="77" dy="20.5">后代小丁羊和灰太狼的后代刀疤狼又在绿青草</tspan><tspan x="77" dy="20.5">原做起对来了。小丁羊住在羊城里，刀疤狼住</tspan><tspan x="77" dy="20.5">在狼堡里。</tspan></text><line class="u" x1="68" y1="2807.5" x2="401" y2="2807.5"/></g>
<g id="h2"><text class="t c6" x="77" y="2865.6">一天，刀疤狼推着一台大炮来到羊城外，站岗<tspan x="77" dy="20.4">的羊拉响了警报器，对里面喊："狼来了，快</tspan><tspan x="77" dy="20.4">跑呀!"刀疤狼从背后拿出一个喇叭，对羊城里</tspan><tspan x="77" dy="20.4">的羊大喊："里面的羊听着，如果你们再不出</tspan><tspan x="77" dy="20.4">来，我就把羊城轰了。里面的羊当中，除了小</tspan><tspan x="77" dy="20.4">丁羊，每只羊都惊慌失措。小丁羊对大家说：</tspan><tspan x="77" dy="20.4">"大家不要惊慌，我有办法。"小丁羊拿着微缩</tspan><tspan x="77" dy="20.4">弹到门口。他故意说："看我炸死你!"刀疤狼</tspan><tspan x="77" dy="20.4">说："就这点小东西，拿给我玩玩还差不多，</tspan><tspan x="77" dy="20.4">炸死我?"他一点燃，放在鼻子上，轰，刀疤狼</tspan><tspan x="77" dy="20.4">被炸飞了。</tspan></text><line class="u" x1="68" y1="3081" x2="401" y2="3081"/></g>
<g id="h3"><text class="t c6" x="77" y="3140">小丁羊既缴了一台大炮，又把刀疤狼赶跑了。</text><line class="u" x1="68" y1="3151.5" x2="401" y2="3151.5"/></g>
</g>
</svg>
